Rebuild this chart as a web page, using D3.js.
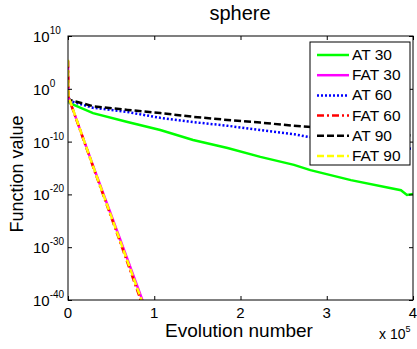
<!DOCTYPE html>
<html>
<head>
<meta charset="utf-8">
<script src="https://cdn.jsdelivr.net/npm/d3@7"></script>
<style>
  body { margin: 0; background: #fff; }
  text { font-family: "Liberation Sans", Arial, sans-serif; }
</style>
</head>
<body>
<div id="chart"></div>
<script>
// x in units of 1e5 evolutions, y as log10 of function value
const at30 = [[0, -1.5], [0.02, -2.7], [0.29, -4.6], [0.69, -6.3], [1.07, -7.8], [1.45, -9.7], [1.85, -11.2], [2.23, -12.9], [2.62, -14.4], [2.81, -15.4], [3.28, -17.3], [3.86, -19.2], [3.93, -20.1], [4.0, -19.9]];
const fat30 = [[0, 5.3], [0.005, -1.3], [0.01, -1.8], [0.3, -15], [0.6, -28.3], [0.88, -40.8]];
const at60 = [[0, -1.4], [0.02, -2.3], [0.29, -3.6], [0.69, -4.4], [1.07, -5.5], [1.45, -6.3], [1.85, -7.0], [2.23, -7.8], [2.62, -8.6], [2.78, -9.1], [3.4, -10.2], [4.0, -11.4]];
const fat60 = [[0, 5.3], [0.005, -1.3], [0.01, -1.8], [0.3, -15.2], [0.6, -28.8], [0.86, -40.8]];
const at90 = [[0, -1.4], [0.02, -2.1], [0.29, -3.3], [0.69, -4.0], [1.07, -4.6], [1.45, -5.3], [1.85, -5.9], [2.23, -6.4], [2.62, -7.0], [2.78, -7.2], [3.4, -8.0], [4.0, -8.9]];
const fat90 = [[0, 5.5], [0.005, -1.3], [0.01, -1.7], [0.3, -15.1], [0.6, -28.6], [0.87, -40.8]];

const seriesNames = ["AT 30", "FAT 30", "AT 60", "FAT 60", "AT 90", "FAT 90"];
const seriesData = [at30, fat30, at60, fat60, at90, fat90];
const xTicks = [0, 1, 2, 3, 4];
const yTickExps = [10, 0, -10, -20, -30, -40];

const styles = [
  { color: "#00ff00", dash: null },
  { color: "#ff00ff", dash: null },
  { color: "#0000ff", dash: "2,2" },
  { color: "#ff0000", dash: "7,3,2,3" },
  { color: "#000000", dash: "7,3" },
  { color: "#ffff00", dash: "7,3" }
];

const W = 417, H = 349;
const pLeft = 68, pRight = 413, pTop = 36, pBottom = 300;

const svg = d3.select("#chart").append("svg")
  .attr("width", W).attr("height", H);

const x = d3.scaleLinear().domain([0, 4]).range([pLeft, pRight]);
const y = d3.scaleLog().domain([1e-40, 1e10]).range([pBottom, pTop]);

svg.append("defs").append("clipPath").attr("id", "clip")
  .append("rect").attr("x", pLeft).attr("y", pTop)
  .attr("width", pRight - pLeft).attr("height", pBottom - pTop);

// lines
const line = d3.line()
  .x(d => x(d[0]))
  .y(d => y(Math.pow(10, d[1])));

const plot = svg.append("g").attr("clip-path", "url(#clip)");
// draw order: AT lines first, FAT on top
[0, 2, 4, 1, 3, 5].forEach(i => {
  plot.append("path")
    .datum(seriesData[i])
    .attr("fill", "none")
    .attr("stroke", styles[i].color)
    .attr("stroke-width", 2.5)
    .attr("stroke-dasharray", styles[i].dash)
    .attr("d", line);
});

// axes, ticks inside
const tickVals = yTickExps.map(e => Math.pow(10, e));
svg.append("g")
  .attr("transform", `translate(${pLeft},0)`)
  .call(d3.axisLeft(y).tickValues(tickVals).tickSize(-4).tickFormat(""))
  .call(g => g.select(".domain").remove());
svg.append("g")
  .attr("transform", `translate(${pRight},0)`)
  .call(d3.axisRight(y).tickValues(tickVals).tickSize(-4).tickFormat(""))
  .call(g => g.select(".domain").remove());
svg.append("g")
  .attr("transform", `translate(0,${pBottom})`)
  .call(d3.axisBottom(x).tickValues(xTicks).tickSize(-4).tickFormat(""))
  .call(g => g.select(".domain").remove());
svg.append("g")
  .attr("transform", `translate(0,${pTop})`)
  .call(d3.axisTop(x).tickValues(xTicks).tickSize(-4).tickFormat(""))
  .call(g => g.select(".domain").remove());

svg.append("rect")
  .attr("x", pLeft).attr("y", pTop)
  .attr("width", pRight - pLeft).attr("height", pBottom - pTop)
  .attr("fill", "none").attr("stroke", "#000").attr("stroke-width", 1);

// y tick labels 10^n
yTickExps.forEach(e => {
  const t = svg.append("text")
    .attr("x", 33)
    .attr("y", y(Math.pow(10, e)) + 6)
    .attr("font-size", 15);
  t.append("tspan").text("10");
  t.append("tspan").attr("dy", -8).attr("font-size", 10).text(e);
});

// x tick labels
xTicks.forEach(v => {
  svg.append("text")
    .attr("x", x(v))
    .attr("y", pBottom + 18)
    .attr("text-anchor", "middle")
    .attr("font-size", 15)
    .text(v);
});

// exponent label
const ex = svg.append("text")
  .attr("x", 379).attr("y", 339).attr("font-size", 14);
ex.append("tspan").text("x 10");
ex.append("tspan").attr("dy", -7).attr("font-size", 9).text("5");

svg.append("text")
  .attr("x", 240)
  .attr("y", 20)
  .attr("text-anchor", "middle")
  .attr("font-size", 20)
  .text("sphere");

svg.append("text")
  .attr("x", 239)
  .attr("y", 337)
  .attr("text-anchor", "middle")
  .attr("font-size", 19)
  .text("Evolution number");

svg.append("text")
  .attr("transform", "translate(23,174) rotate(-90)")
  .attr("text-anchor", "middle")
  .attr("font-size", 18)
  .text("Function value");

// legend
const lg = svg.append("g");
lg.append("rect")
  .attr("x", 310).attr("y", 42)
  .attr("width", 100).attr("height", 123)
  .attr("fill", "#fff").attr("stroke", "#000").attr("stroke-width", 1);
seriesNames.forEach((name, i) => {
  const yy = 55 + i * 20.2;
  lg.append("line")
    .attr("x1", 317).attr("x2", 349)
    .attr("y1", yy).attr("y2", yy)
    .attr("stroke", styles[i].color)
    .attr("stroke-width", 2.5)
    .attr("stroke-dasharray", styles[i].dash);
  lg.append("text")
    .attr("x", 352).attr("y", yy + 5)
    .attr("font-size", 15.5)
    .text(name);
});
</script>
</body>
</html>
